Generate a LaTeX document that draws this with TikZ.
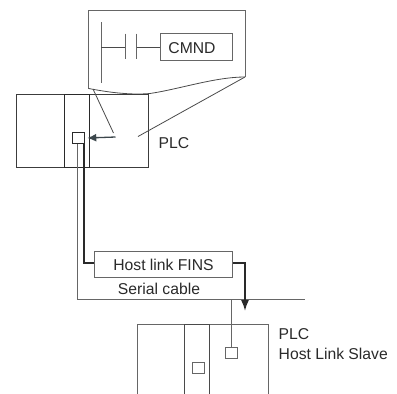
\documentclass[tikz,border=0pt]{standalone}
\usepackage{fontspec}
\setmainfont{Liberation Sans}
\usetikzlibrary{arrows.meta}
\definecolor{ln}{HTML}{666666}
\definecolor{dk}{HTML}{2A2A2A}
\definecolor{ar}{HTML}{3C474C}
\tikzset{
  box/.style={draw=ln,line width=1pt,inner sep=0pt,minimum width=#1},
  thin line/.style={draw=ln,line width=1pt},
  dark line/.style={draw=dk!85!white,line width=0.8pt},
  thick line/.style={draw=dk,line width=1.7pt},
  txt/.style={inner sep=0pt,text=dk,font=\fontsize{15.7}{18}\selectfont},
  sq/.style={draw=ln,line width=1pt,inner sep=0pt,minimum width=11.5pt,minimum height=11.5pt}
}
\begin{document}
\begin{tikzpicture}[x=1pt,y=-1pt]
\useasboundingbox (0,0) rectangle (397,394);
\fill[white] (0,0) rectangle (397,394);
% callout outline
\draw[thin line] (88.7,88.5) -- (88.7,10) -- (245,10) -- (245,77);
\draw[dark line] (88.7,88.5) .. controls (112,93) and (132,95) .. (150,93.5) .. controls (180,89) and (215,77) .. (245,77);
% PLC
\node[box=132pt,minimum height=73pt,draw=dk!70!ln] (plc) at (82.7,130.5) {};
\node[box=24.3pt,minimum height=73pt,draw=dk] (mod) at (76.9,130.5) {};
\node[sq,draw=dk] (port) at (78.6,138.2) {};
% callout leaders
\coordinate (cl) at (93,89);
\coordinate (cle) at (113.5,133);
\coordinate (cr) at (245,77);
\coordinate (cre) at (138,136.5);
\draw[dark line] (cl) -- (cle);
\draw[dark line] (cr) -- (cre);
\coordinate (as) at (115.5,137);
\coordinate (at) at (87.3,138);
\draw[draw=ar,line width=1.3pt,-{Latex[length=9pt,width=8pt]}] (as) -- (at);
\node[txt,anchor=base west] (plcl) at (158.5,148) {PLC};
% ladder
\coordinate (r1) at (101,22);
\coordinate (r2) at (101,82.5);
\draw[thin line] (r1) -- (r2);
\coordinate (c1a) at (125,33.5);
\coordinate (c1b) at (125,58.5);
\coordinate (c2a) at (136.7,33.5);
\coordinate (c2b) at (136.7,58.5);
\draw[thin line] (c1a) -- (c1b);
\draw[thin line] (c2a) -- (c2b);
\node[box=72.5pt,minimum height=27.5pt,draw=ln] (cmnd) at (196.7,47.2) {};
\node[txt,anchor=base] (cmndl) at (192,53) {CMND};
\draw[dark line] (r1 |- cmnd.west) -- (c1a |- cmnd.west);
\draw[dark line] (c2a |- cmnd.west) -- (cmnd.west);
% FINS
\node[box=138.5pt,minimum height=25.5pt,draw=ln] (fins) at (163.7,264.3) {};
\node[txt,anchor=base] (finsl) at (163.5,270) {Host link FINS};
\node[txt,anchor=base] (serial) at (159,294) {Serial cable};
% lower PLC
\coordinate (lt) at (137,324);
\coordinate (lr) at (268.7,324);
\draw[thin line] (137,394) -- (lt) -- (lr) -- (268.7,394);
\coordinate (mt) at (184.7,324);
\coordinate (mr) at (209,324);
\draw[dark line,line width=1pt] (184.7,394) -- (mt) -- (mr) -- (209,394);
\node[sq] (lport) at (198.5,368) {};
\node[sq] (sport) at (231.5,353) {};
\node[txt,anchor=base west] (pl2) at (278.5,339) {PLC};
\node[txt,anchor=base west] (pl3) at (278.5,359) {Host Link Slave};
% cable
\coordinate (ce) at (305,299.7);
\draw[thin line] ([xshift=-1.6pt]port.south) -- (77,299.7) -- (ce);
\draw[thin line] (sport.north) -- (sport.north |- ce);
% thick
\draw[thick line] ([xshift=5.4pt]port.south) -- (84,263.3) -- (fins.west |- 0,263.3);
\draw[thick line,-{Latex[length=11pt,width=8pt]}] (fins.east |- 0,263.3) -- (245,263.3) -- (245,311);
\end{tikzpicture}
\end{document}
